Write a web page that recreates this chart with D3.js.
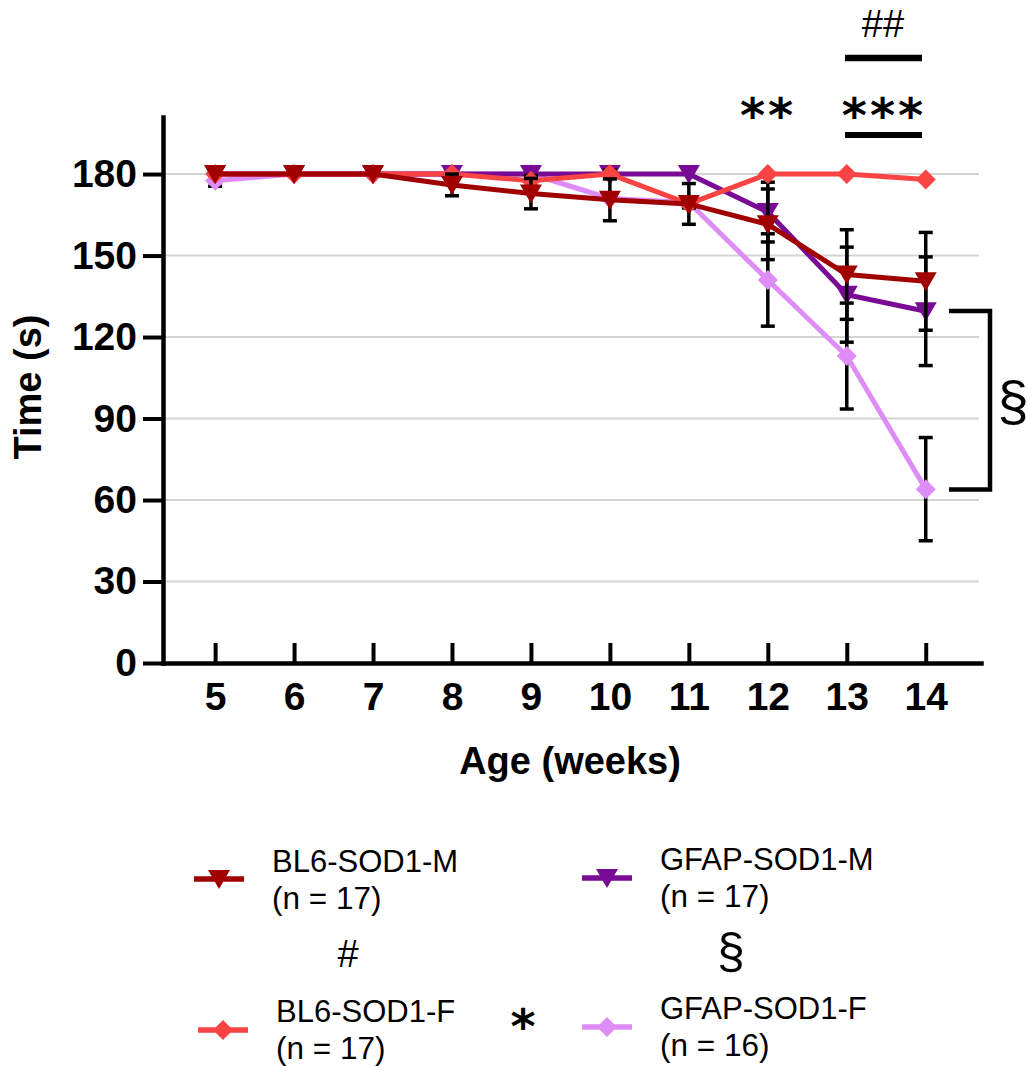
<!DOCTYPE html>
<html>
<head>
<meta charset="utf-8">
<script src="https://cdn.jsdelivr.net/npm/d3@7"></script>
<style>
  body { margin: 0; background: #fff; }
  text { font-family: Arial, 'Liberation Sans', sans-serif; }
</style>
</head>
<body>
<script>
// data
var weeks = [5, 6, 7, 8, 9, 10, 11, 12, 13, 14];
var yTicks = [0, 30, 60, 90, 120, 150, 180];

var bl6M = [180, 180, 180, 176, 172.8, 170.5, 169, 161.5, 143, 140.5];
var bl6MSem = [0, 0, 0, 4, 5.6, 7.7, 7.5, 13, 16.5, 18];
var bl6F = [180, 180, 180, 180, 177.5, 180, 169, 180, 180, 178];
var bl6FSem = [0, 0, 0, 0, 2, 1.5, 1.5, 0, 0, 0];
var gfapM = [180, 180, 180, 180, 180, 180, 180, 166, 135.6, 129.5];
var gfapMSem = [0, 0, 0, 0, 0, 0, 0, 11, 17.5, 20];
var gfapF = [177.5, 180, 180, 180, 180, 171, 169.5, 141, 113, 64];
var gfapFSem = [2, 0, 0, 0, 0, 0, 0, 17, 19.5, 19];

var seriesNames = ['BL6-SOD1-M', 'BL6-SOD1-F', 'GFAP-SOD1-M', 'GFAP-SOD1-F'];
var seriesN = ['(n = 17)', '(n = 17)', '(n = 17)', '(n = 16)'];
var seriesColors = ['#a00000', '#fa4343', '#780a96', '#de8cf6'];
var seriesShapes = ['tri', 'dia', 'tri', 'dia'];

var series = [
  { name: seriesNames[0], n: seriesN[0], mean: bl6M, sem: bl6MSem, color: seriesColors[0], shape: seriesShapes[0] },
  { name: seriesNames[1], n: seriesN[1], mean: bl6F, sem: bl6FSem, color: seriesColors[1], shape: seriesShapes[1] },
  { name: seriesNames[2], n: seriesN[2], mean: gfapM, sem: gfapMSem, color: seriesColors[2], shape: seriesShapes[2] },
  { name: seriesNames[3], n: seriesN[3], mean: gfapF, sem: gfapFSem, color: seriesColors[3], shape: seriesShapes[3] }
];

var shapePath = {
  tri: 'M-11,-9L11,-9L0,10Z',
  dia: 'M0,-10L10,0L0,10L-10,0Z'
};

var svg = d3.select('body').append('svg')
  .attr('width', 1028)
  .attr('height', 1066);

var x = d3.scaleLinear().domain([4.34, 14.7]).range([163, 981]);
var y = d3.scaleLinear().domain([0, 201]).range([663, 117]);

// gridlines
svg.append('g').selectAll('line')
  .data(yTicks.filter(function(d) { return d > 0; }))
  .enter().append('line')
  .attr('x1', 165)
  .attr('x2', 979)
  .attr('y1', function(d) { return y(d); })
  .attr('y2', function(d) { return y(d); })
  .style('stroke', '#d4d4d4')
  .style('stroke-width', 2);

// axes
var yAxis = svg.append('g')
  .attr('transform', 'translate(163,0)')
  .call(d3.axisLeft(y).tickValues(yTicks).tickSize(20).tickSizeOuter(0).tickPadding(6));

var xAxis = svg.append('g')
  .attr('transform', 'translate(0,663)')
  .call(d3.axisBottom(x).tickValues(weeks).tickSizeInner(-20).tickSizeOuter(0));

[yAxis, xAxis].forEach(function(ax) {
  ax.select('.domain').style('stroke', '#000').style('stroke-width', 4.5).style('stroke-linecap', 'square');
  ax.selectAll('.tick line').style('stroke', '#000').style('stroke-width', 4);
  ax.selectAll('.tick text')
    .style('font-family', 'Arial, Liberation Sans, sans-serif')
    .style('font-size', '39px')
    .style('font-weight', 'bold')
    .style('fill', '#000');
});
xAxis.selectAll('.tick text').attr('y', 47).attr('dy', null);

svg.append('text')
  .attr('x', 570)
  .attr('y', 774)
  .style('text-anchor', 'middle')
  .style('font-size', '38px')
  .style('font-weight', 'bold')
  .text('Age (weeks)');

svg.append('text')
  .attr('transform', 'translate(41,387) rotate(-90)')
  .style('text-anchor', 'middle')
  .style('font-size', '38px')
  .style('font-weight', 'bold')
  .text('Time (s)');

// series, drawn back to front
var line = d3.line()
  .x(function(d, i) { return x(weeks[i]); })
  .y(function(d) { return y(d); });

series.slice().reverse().forEach(function(s) {
  var g = svg.append('g');
  var pts = s.mean.map(function(m, i) { return { w: weeks[i], m: m, e: s.sem[i] }; });

  var eb = g.selectAll('.eb')
    .data(pts.filter(function(d) { return d.e > 0; }))
    .enter().append('g');
  eb.append('line')
    .attr('x1', function(d) { return x(d.w); })
    .attr('x2', function(d) { return x(d.w); })
    .attr('y1', function(d) { return y(d.m - d.e); })
    .attr('y2', function(d) { return y(d.m + d.e); });
  eb.append('line')
    .attr('x1', function(d) { return x(d.w) - 7; })
    .attr('x2', function(d) { return x(d.w) + 7; })
    .attr('y1', function(d) { return y(d.m - d.e); })
    .attr('y2', function(d) { return y(d.m - d.e); });
  eb.append('line')
    .attr('x1', function(d) { return x(d.w) - 7; })
    .attr('x2', function(d) { return x(d.w) + 7; })
    .attr('y1', function(d) { return y(d.m + d.e); })
    .attr('y2', function(d) { return y(d.m + d.e); });
  eb.selectAll('line').style('stroke', '#000').style('stroke-width', 3.5);

  g.append('path')
    .attr('d', line(s.mean))
    .style('fill', 'none')
    .style('stroke', s.color)
    .style('stroke-width', 5);

  g.selectAll('.mk')
    .data(pts)
    .enter().append('path')
    .attr('d', shapePath[s.shape])
    .attr('transform', function(d) { return 'translate(' + x(d.w) + ',' + y(d.m) + ')'; })
    .style('fill', s.color);
});

// significance marks
svg.append('text')
  .attr('x', 768).attr('y', 132)
  .style('text-anchor', 'middle')
  .style('font-family', 'DejaVu Sans')
  .style('font-weight', 'bold')
  .style('font-size', '48px')
  .style('letter-spacing', '3px')
  .text('**');

svg.append('text')
  .attr('x', 884).attr('y', 132)
  .style('text-anchor', 'middle')
  .style('font-family', 'DejaVu Sans')
  .style('font-weight', 'bold')
  .style('font-size', '48px')
  .style('letter-spacing', '3px')
  .text('***');

svg.append('line')
  .attr('x1', 845).attr('x2', 922)
  .attr('y1', 135).attr('y2', 135)
  .style('stroke', '#000').style('stroke-width', 6);

svg.append('line')
  .attr('x1', 845).attr('x2', 922)
  .attr('y1', 58).attr('y2', 58)
  .style('stroke', '#000').style('stroke-width', 6.5);

svg.append('text')
  .attr('x', 883).attr('y', 37)
  .style('text-anchor', 'middle')
  .style('font-size', '38px')
  .text('##');

svg.append('path')
  .attr('d', 'M949,311H990V489.5H949')
  .style('fill', 'none')
  .style('stroke', '#000')
  .style('stroke-width', 4.5);

svg.append('text')
  .attr('x', 1013).attr('y', 420)
  .style('text-anchor', 'middle')
  .style('font-size', '56px')
  .text('§');

// legend
var legendPos = [
  { lx: 194, ly: 879, tx: 272, ty: 872 },
  { lx: 198, ly: 1030, tx: 276, ty: 1022 },
  { lx: 582, ly: 878, tx: 660, ty: 870 },
  { lx: 582, ly: 1027, tx: 660, ty: 1019 }
];

series.forEach(function(s, i) {
  var p = legendPos[i];
  var g = svg.append('g');
  g.append('line')
    .attr('x1', p.lx).attr('x2', p.lx + 50)
    .attr('y1', p.ly).attr('y2', p.ly)
    .style('stroke', s.color).style('stroke-width', 5.5);
  g.append('path')
    .attr('d', shapePath[s.shape])
    .attr('transform', 'translate(' + (p.lx + 25) + ',' + p.ly + ')')
    .style('fill', s.color);
  g.append('text')
    .attr('x', p.tx).attr('y', p.ty)
    .style('font-size', '31px')
    .text(s.name);
  g.append('text')
    .attr('x', p.tx).attr('y', p.ty + 37)
    .style('font-size', '31.5px')
    .text(s.n);
});

svg.append('text')
  .attr('x', 348).attr('y', 967)
  .style('text-anchor', 'middle')
  .style('font-size', '38px')
  .text('#');

svg.append('text')
  .attr('x', 731).attr('y', 968)
  .style('text-anchor', 'middle')
  .style('font-size', '50px')
  .text('§');

svg.append('text')
  .attr('x', 523).attr('y', 1043)
  .style('text-anchor', 'middle')
  .style('font-family', 'DejaVu Sans')
  .style('font-weight', 'bold')
  .style('font-size', '48px')
  .text('*');
</script>
</body>
</html>
